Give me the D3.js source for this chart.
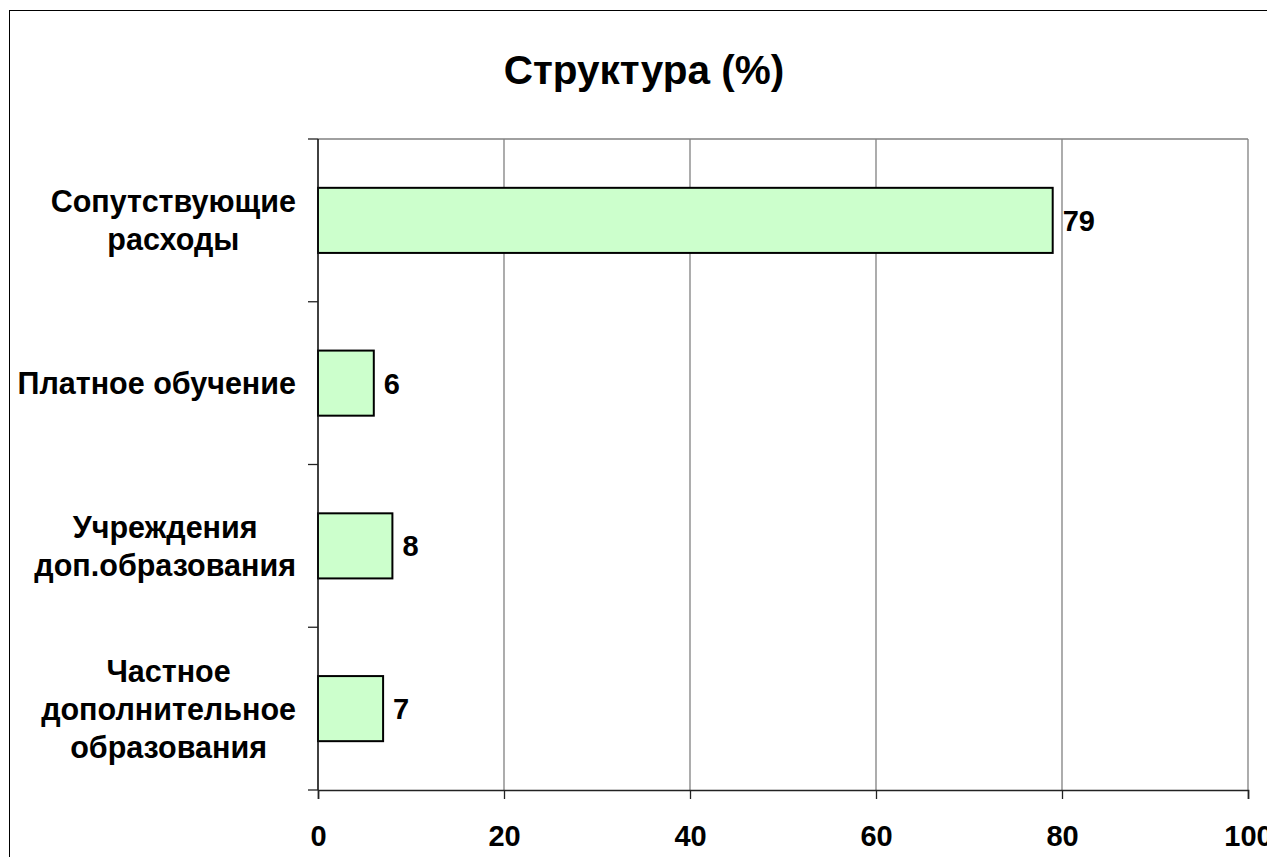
<!DOCTYPE html>
<html>
<head>
<meta charset="utf-8">
<script src="https://cdn.jsdelivr.net/npm/d3@7"></script>
<style>
  html, body { margin: 0; padding: 0; background: #fff; overflow: hidden; }
  text { font-family: "Liberation Sans", Arial, sans-serif; font-weight: bold; fill: #000; }
</style>
</head>
<body>
<svg id="chart" width="1267" height="857"></svg>
<script>
const title = "Структура (%)";
const categories = [
  ["Сопутствующие", "расходы"],
  ["Платное обучение"],
  ["Учреждения", "доп.образования"],
  ["Частное", "дополнительное", "образования"]
];
const values = [79, 6, 8, 7];
const xTicks = [0, 20, 40, 60, 80, 100];

const W = 1267, H = 857;
const plot = { left: 318, right: 1248, top: 139, bottom: 790 };
const svg = d3.select("#chart");

svg.append("rect").attr("x", 0).attr("y", 0).attr("width", W).attr("height", H).attr("fill", "#fff");
// outer chart frame (extends past the right/bottom edge)
svg.append("rect").attr("x", 9.5).attr("y", 10.5).attr("width", W + 20).attr("height", H + 20)
  .attr("fill", "none").attr("stroke", "#000").attr("stroke-width", 1);

const keys = categories.map(c => c.join(" "));
const x = d3.scaleLinear().domain([0, 100]).range([plot.left, plot.right]);
const y = d3.scaleBand().domain(keys).range([plot.top, plot.bottom]).paddingInner(0.6).paddingOuter(0.3);

// title
svg.append("text").attr("x", 644).attr("y", 84).attr("text-anchor", "middle")
  .style("font-size", "40.5px").text(title);

// gridlines
svg.append("g").selectAll("line").data(xTicks.filter(d => d > 0)).join("line")
  .attr("x1", d => x(d)).attr("x2", d => x(d))
  .attr("y1", plot.top).attr("y2", plot.bottom)
  .attr("stroke", "#808080").attr("stroke-width", 1.3);
// plot top border
svg.append("line").attr("x1", plot.left).attr("x2", plot.right)
  .attr("y1", plot.top).attr("y2", plot.top)
  .attr("stroke", "#808080").attr("stroke-width", 1.6);

// bars
svg.append("g").selectAll("rect").data(values).join("rect")
  .attr("x", x(0))
  .attr("y", (d, i) => y(keys[i]))
  .attr("width", d => x(d) - x(0))
  .attr("height", y.bandwidth())
  .attr("fill", "#CCFFCC").attr("stroke", "#000").attr("stroke-width", 2);

// value labels
svg.append("g").selectAll("text").data(values).join("text")
  .attr("x", d => x(d) + 10)
  .attr("y", (d, i) => y(keys[i]) + y.bandwidth() / 2 + 10.5)
  .style("font-size", "29px").text(d => d);

// x axis
const xAxis = d3.axisBottom(x).tickValues(xTicks).tickSize(9).tickPadding(26).tickFormat(d3.format("d"));
const gx = svg.append("g").attr("transform", `translate(0,${plot.bottom})`).call(xAxis);
gx.select(".domain").attr("stroke", "#222").attr("stroke-width", 1.6);
gx.selectAll(".tick line").attr("stroke", "#222").attr("stroke-width", 1.3);
gx.selectAll(".tick text").style("font-size", "29px").style("font-family", "Liberation Sans, Arial, sans-serif")
  .style("font-weight", "bold").attr("fill", "#000");

// y axis: line and ticks at band boundaries
const boundaries = d3.range(categories.length + 1).map(i => plot.top + i * (plot.bottom - plot.top) / categories.length);
svg.append("line").attr("x1", plot.left).attr("x2", plot.left).attr("y1", plot.top).attr("y2", plot.bottom)
  .attr("stroke", "#111").attr("stroke-width", 1.6);
svg.append("g").selectAll("line").data(boundaries).join("line")
  .attr("x1", plot.left - 10).attr("x2", plot.left)
  .attr("y1", d => d).attr("y2", d => d)
  .attr("stroke", "#222").attr("stroke-width", 1.3);

// category labels: multi-line, centered block whose right edge sits near the axis
const lineH = 38;
const gl = svg.append("g");
categories.forEach((lines, i) => {
  const cy = y(keys[i]) + y.bandwidth() / 2;
  const t = gl.append("text").attr("text-anchor", "middle").style("font-size", "30.5px");
  lines.forEach((ln, j) => {
    t.append("tspan").attr("y", cy - (lines.length - 1) * lineH / 2 + j * lineH + 11).text(ln);
  });
  const tsp = t.selectAll("tspan").nodes();
  const maxW = d3.max(tsp, n => n.getComputedTextLength());
  const cx = 296 - maxW / 2;
  t.selectAll("tspan").attr("x", cx);
});
</script>
</body>
</html>
